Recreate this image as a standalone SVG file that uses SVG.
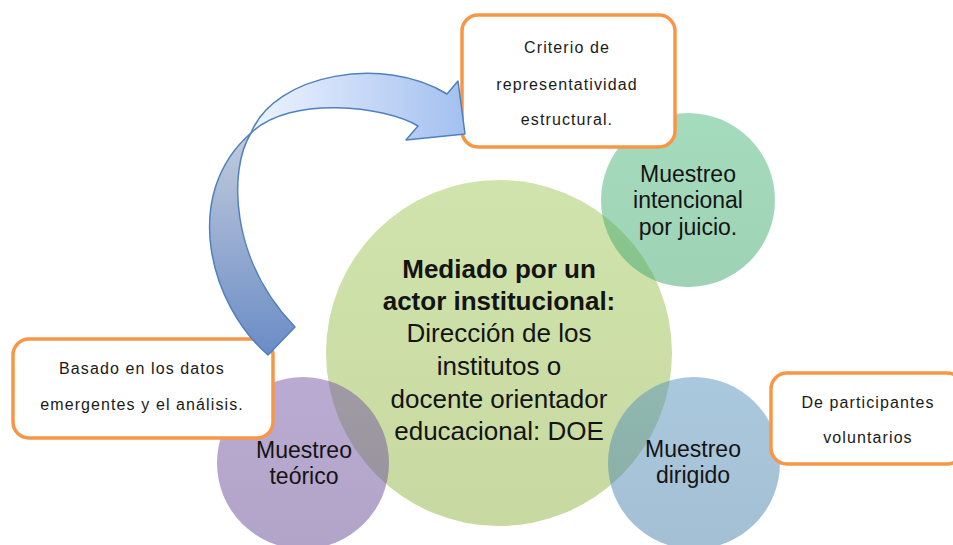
<svg xmlns="http://www.w3.org/2000/svg" width="953" height="545" viewBox="0 0 953 545">
  <style>
    .circ { fill-opacity: 0.5; }
    .big { font-family: "Liberation Sans", Arial, sans-serif; font-size: 26px; fill: #141414; text-anchor: middle; }
    .bold { font-weight: bold; }
    .mid { font-family: "Liberation Sans", Arial, sans-serif; font-size: 23px; fill: #141414; text-anchor: middle; }
    .box { fill: #ffffff; stroke: #f79646; stroke-width: 3.5; }
    .small { font-family: "Liberation Sans", Arial, sans-serif; font-size: 16px; fill: #1a1a1a; text-anchor: middle; letter-spacing: 1.1px; }
    .arrow { stroke: #4f81bd; stroke-width: 1.5; stroke-linejoin: round; }
  </style>
  <defs>
    <linearGradient id="gCenter" x1="0" y1="0" x2="0" y2="1">
      <stop offset="0" stop-color="#a3c85a"/>
      <stop offset="1" stop-color="#8fb443"/>
    </linearGradient>
    <linearGradient id="gInt" x1="0" y1="0" x2="0" y2="1">
      <stop offset="0" stop-color="#4cb97c"/>
      <stop offset="1" stop-color="#3fa56c"/>
    </linearGradient>
    <linearGradient id="gTeo" x1="0" y1="0" x2="0" y2="1">
      <stop offset="0" stop-color="#7557a5"/>
      <stop offset="1" stop-color="#654a92"/>
    </linearGradient>
    <linearGradient id="gDir" x1="0" y1="0" x2="0" y2="1">
      <stop offset="0" stop-color="#5692bc"/>
      <stop offset="1" stop-color="#4a80a8"/>
    </linearGradient>
    <linearGradient id="gArrH" x1="0" y1="0" x2="1" y2="0">
      <stop offset="0" stop-color="#eef4ff"/>
      <stop offset="1" stop-color="#a3c0f0"/>
    </linearGradient>
    <linearGradient id="gArrV" x1="0" y1="0" x2="0" y2="1">
      <stop offset="0" stop-color="#c2cbdc"/>
      <stop offset="1" stop-color="#6a8cc6"/>
    </linearGradient>
  </defs>

  <g id="node-center">
    <circle class="circ" cx="499" cy="353" r="173" fill="url(#gCenter)"/>
  </g>
  <g id="node-intencional">
    <circle class="circ" cx="688" cy="200" r="87" fill="url(#gInt)"/>
  </g>
  <g id="node-teorico">
    <circle class="circ" cx="303" cy="463" r="86" fill="url(#gTeo)"/>
  </g>
  <g id="node-dirigido">
    <circle class="circ" cx="694" cy="463" r="86" fill="url(#gDir)"/>
  </g>

  <g id="labels-circles">
    <text class="big bold" x="499" y="278">Mediado por un</text>
    <text class="big bold" x="499" y="310">actor institucional:</text>
    <text class="big" x="499" y="342">Dirección de los</text>
    <text class="big" x="499" y="375">institutos o</text>
    <text class="big" x="499" y="408">docente orientador</text>
    <text class="big" x="499" y="440">educacional: DOE</text>

    <text class="mid" x="688" y="182">Muestreo</text>
    <text class="mid" x="688" y="208">intencional</text>
    <text class="mid" x="688" y="235">por juicio.</text>

    <text class="mid" x="304" y="458">Muestreo</text>
    <text class="mid" x="304" y="484">teórico</text>

    <text class="mid" x="693" y="457">Muestreo</text>
    <text class="mid" x="693" y="483">dirigido</text>
  </g>

  <g id="node-criterio">
    <rect class="box" x="462" y="15" width="213" height="132" rx="16"/>
    <text class="small" x="567" y="53">Criterio de</text>
    <text class="small" x="567" y="90">representatividad</text>
    <text class="small" x="567" y="125">estructural.</text>
  </g>
  <g id="node-basado">
    <rect class="box" x="13" y="339" width="260" height="99" rx="16"/>
    <text class="small" x="142" y="374">Basado en los datos</text>
    <text class="small" x="142" y="410">emergentes y el análisis.</text>
  </g>
  <g id="node-participantes">
    <rect class="box" x="771" y="373" width="192" height="91" rx="16"/>
    <text class="small" x="868" y="408">De participantes</text>
    <text class="small" x="868" y="443">voluntarios</text>
  </g>

  <g id="connectors">
    <path class="arrow" fill="url(#gArrV)" d="M268,355 C210,305 180,195 251,133 C228,170 230,260 295,327 Z"/>
    <path class="arrow" fill="url(#gArrH)" d="M251,133 C275,73 385,55 447,94 L458,81 L465,134 L406,140 L418,126 C385,106 290,95 251,133 Z"/>
  </g>
</svg>
